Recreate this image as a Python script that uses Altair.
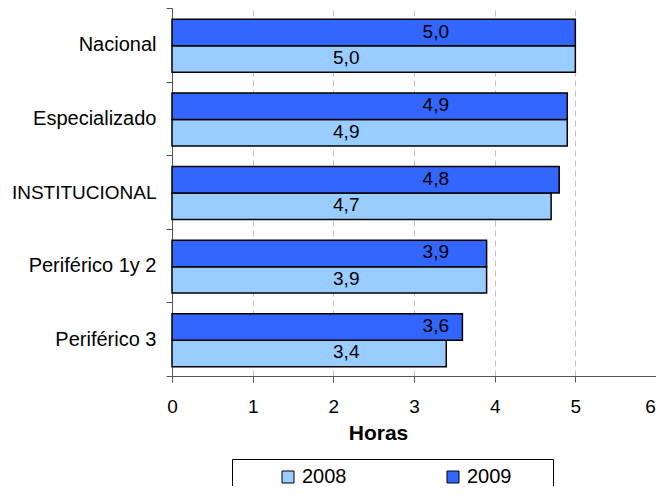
import altair as alt
import pandas as pd

categories = ["Nacional", "Especializado", "INSTITUCIONAL", "Periférico 1y 2", "Periférico 3"]
series = ["2008", "2009"]
values_2008 = [5.0, 4.9, 4.7, 3.9, 3.4]
values_2009 = [5.0, 4.9, 4.8, 3.9, 3.6]
x_ticks = [0, 1, 2, 3, 4, 5, 6]

rows = []
for c, v in zip(categories, values_2008):
    rows.append({"cat": c, "series": "2008", "value": v})
for c, v in zip(categories, values_2009):
    rows.append({"cat": c, "series": "2009", "value": v})
df = pd.DataFrame(rows)

FONT = "Liberation Sans"

y_enc = alt.Y(
    "cat:N",
    sort=categories,
    scale=alt.Scale(paddingInner=0, paddingOuter=0),
    axis=alt.Axis(
        title=None,
        tickBand="extent",
        tickSize=6,
        labelPadding=10,
        labelFontSize={"condition": {"test": "datum.value == 'INSTITUCIONAL'", "value": 19}, "value": 20},
        labelFont=FONT,
        labelColor="black",
        domainColor="#555555",
        tickColor="#555555",
        grid=False,
    ),
)
yoff_enc = alt.YOffset(
    "series:N",
    sort=["2009", "2008"],
    scale=alt.Scale(paddingInner=0, paddingOuter=0.39, align=0.55),
)
x_scale = alt.Scale(domain=[0, 6], nice=False)

bars = alt.Chart(df).mark_bar(stroke="black", strokeWidth=1.5).encode(
    y=y_enc,
    yOffset=yoff_enc,
    x=alt.X(
        "value:Q",
        scale=x_scale,
        axis=alt.Axis(
            values=x_ticks,
            format="d",
            title="Horas",
            titleFontSize=21,
            titleFont=FONT,
            titleFontWeight="bold",
            titleColor="black",
            titleX=206,
            titleAlign="center",
            titlePadding=6,
            tickSize=6,
            labelPadding=15,
            labelFlush=False,
            labelOffset={"condition": {"test": "datum.value == 6", "value": -6}, "value": 0},
            labelFontSize=19,
            labelFont=FONT,
            labelColor="black",
            domainColor="#555555",
            tickColor="#555555",
            grid=True,
            gridDash=[6, 4],
            gridColor="#c0c0c0",
        ),
    ),
    color=alt.Color(
        "series:N",
        scale=alt.Scale(domain=series, range=["#99CCFF", "#3366FF"]),
        legend=alt.Legend(
            orient="none",
            legendX=60,
            legendY=451,
            direction="horizontal",
            columns=2,
            columnPadding=58,
            padding=8,
            strokeColor="black",
            symbolType="square",
            symbolSize=144,
            symbolStrokeColor="black",
            symbolStrokeWidth=1,
            symbolOffset=38,
            labelOffset=4,
            labelFontSize=20,
            labelFont=FONT,
            labelColor="black",
            title="\u00a0\u00a0",
            titleOrient="right",
            titleFontSize=19,
            titlePadding=34,
        ),
    ),
)

labels = alt.Chart(df).transform_calculate(
    label="replace(format(datum.value, '.1f'), '.', ',')",
    lx="datum.series == '2009' ? 3.27 : 2.16",
).mark_text(fontSize=19, font=FONT, color="black", dy=-1).encode(
    y=alt.Y("cat:N", sort=categories),
    yOffset=alt.YOffset("series:N", sort=["2009", "2008"]),
    x=alt.X("lx:Q", scale=x_scale),
    text="label:N",
)

chart = alt.layer(bars, labels).properties(
    width=484,
    height=368,
    autosize="none",
    padding={"left": 164, "top": 0, "right": 0, "bottom": 110},
).configure_view(stroke=None)

chart.save("out.html", embed_options={"renderer": "svg", "actions": False})
